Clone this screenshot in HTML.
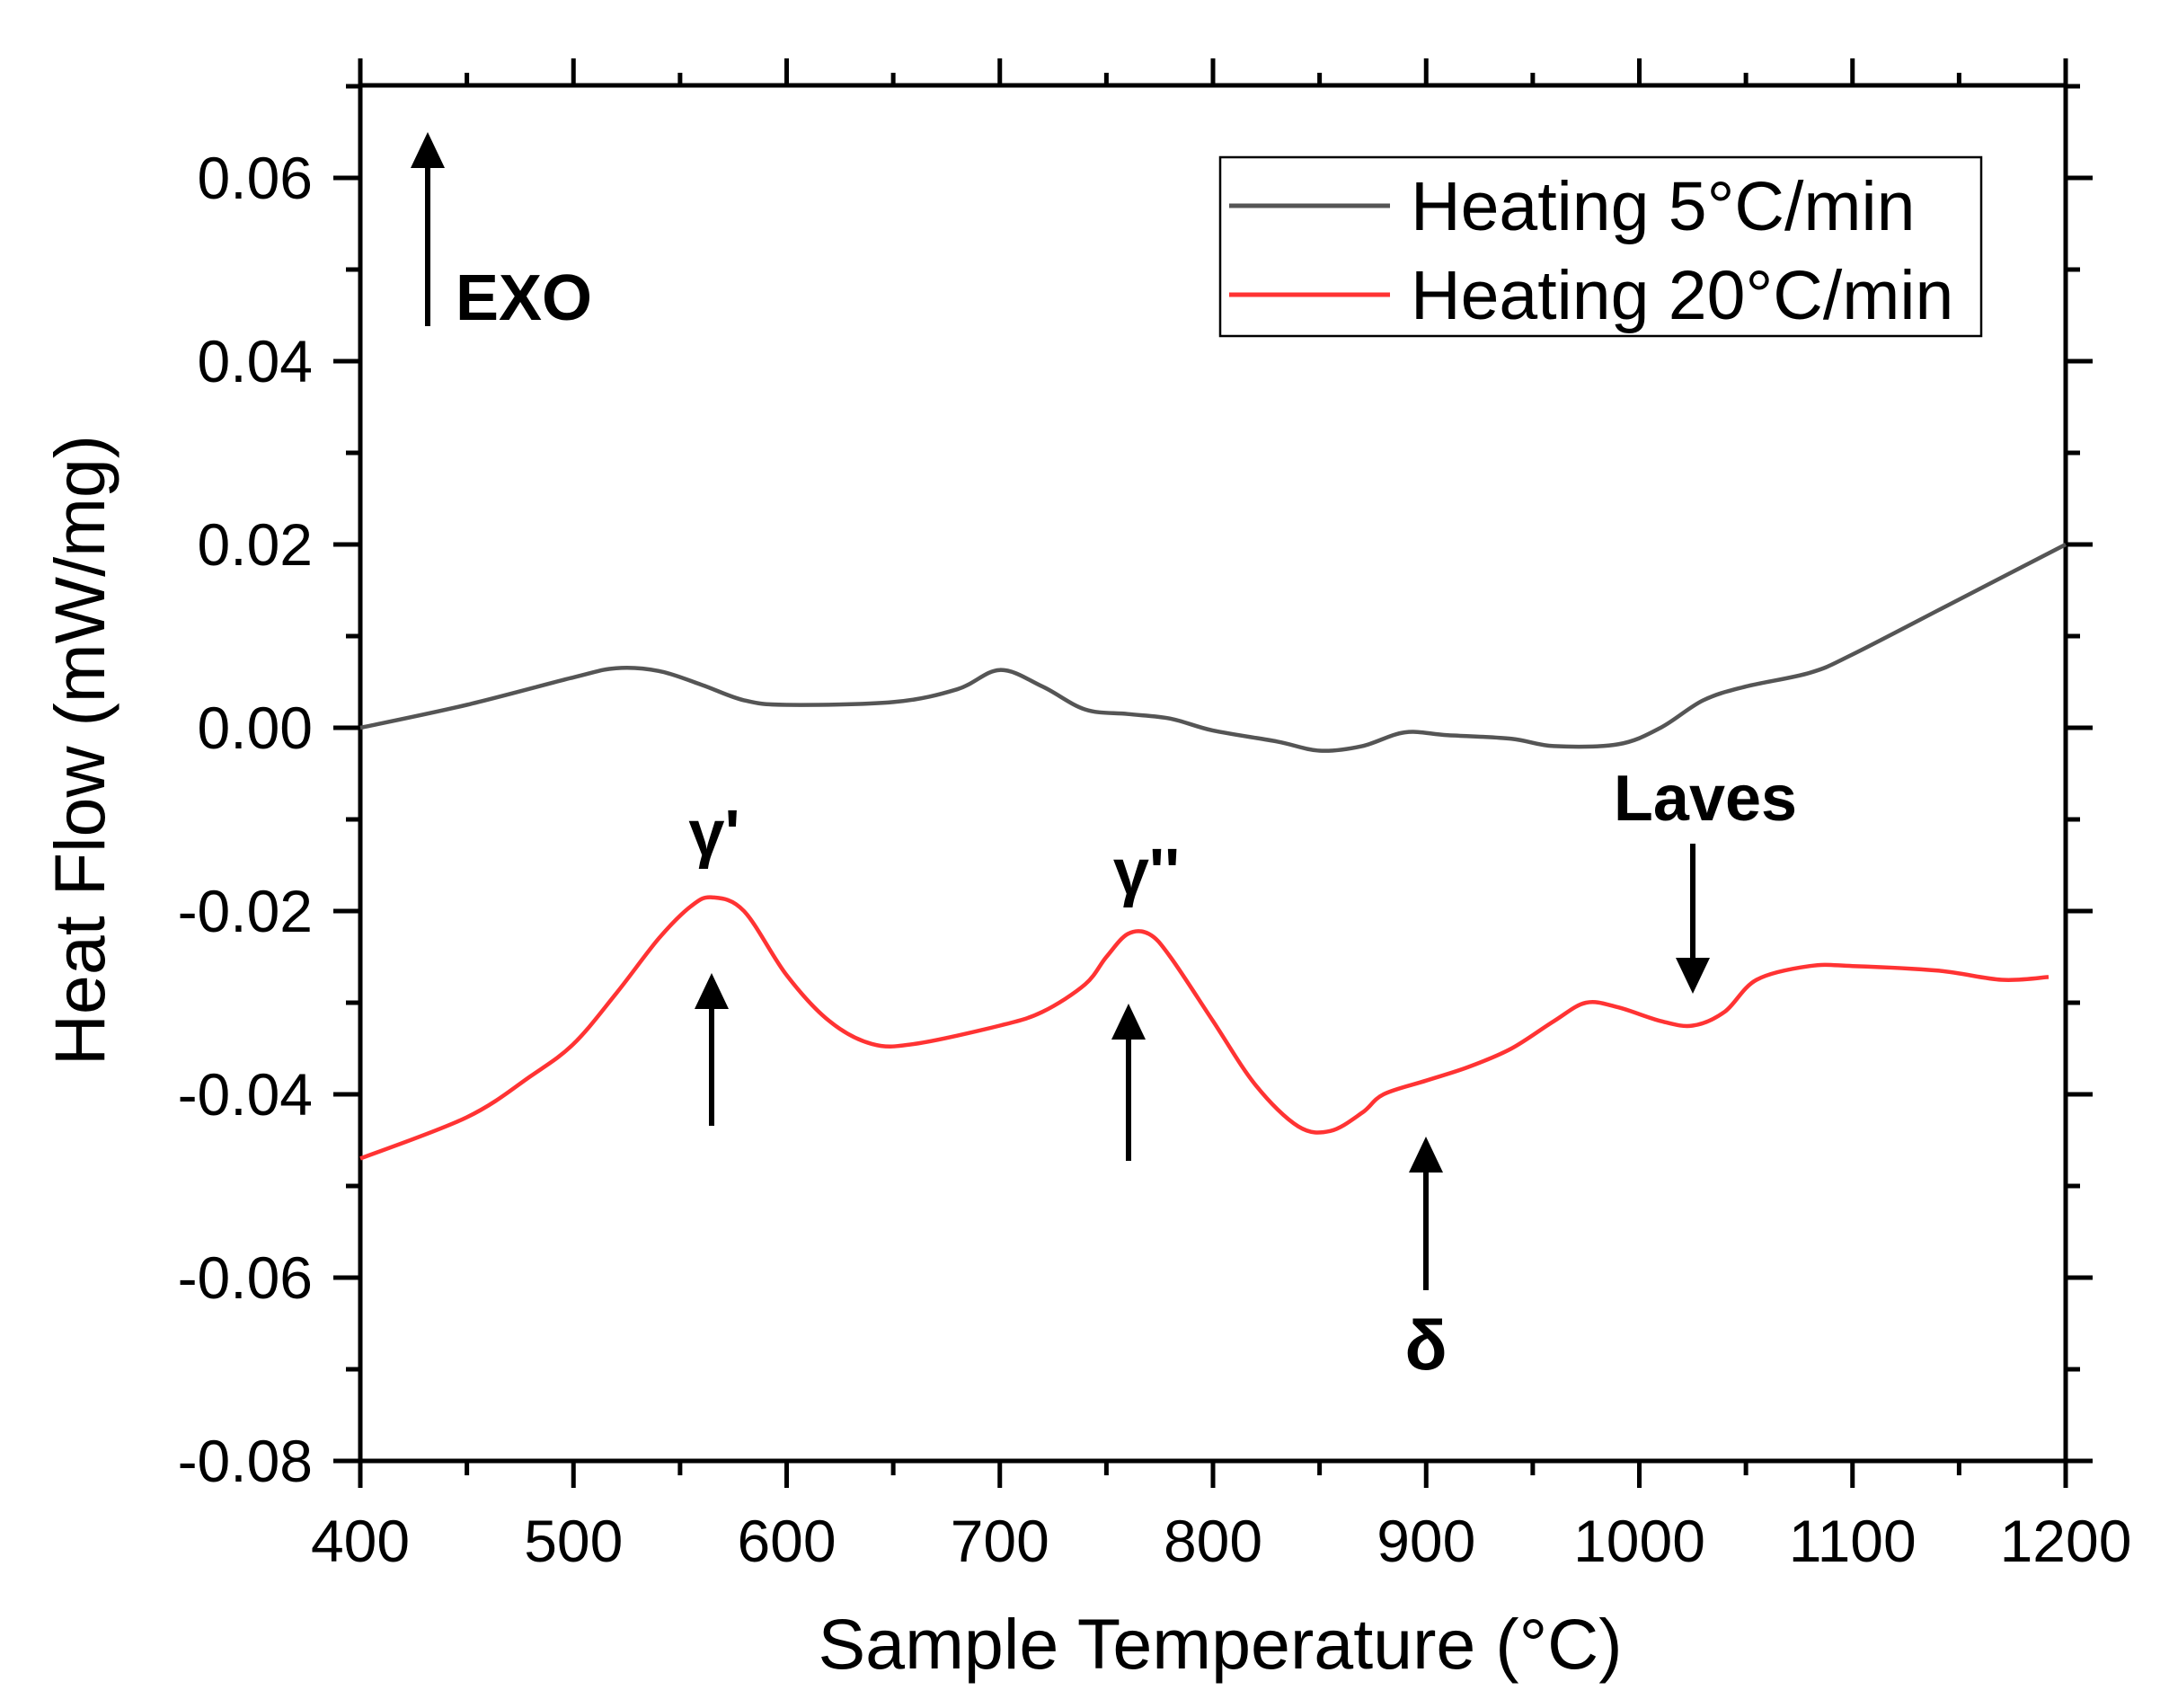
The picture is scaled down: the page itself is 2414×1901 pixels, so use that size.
<!DOCTYPE html>
<html><head><meta charset="utf-8"><style>
html,body{margin:0;padding:0;background:#fff;}
svg{display:block;}
text{font-family:"Liberation Sans",Arial,sans-serif;fill:#000;}
</style></head><body>
<svg id="chart" width="2414" height="1901" viewBox="0 0 2414 1901" xmlns="http://www.w3.org/2000/svg">
<g id="axes"></g>
<g id="series"></g>
<g id="annot"></g>
<g id="legend">
  <rect x="1358" y="175" width="847" height="199" fill="#fff" stroke="#000" stroke-width="2.5"/>
  <line x1="1368" y1="229" x2="1547" y2="229" stroke="#555" stroke-width="5"/>
  <text x="1570" y="256" font-size="77">Heating 5°C/min</text>
  <line x1="1368" y1="328" x2="1547" y2="328" stroke="#ff3333" stroke-width="5"/>
  <text x="1570" y="355" font-size="77">Heating 20°C/min</text>
</g>
<text x="1358" y="1857" font-size="79" text-anchor="middle">Sample Temperature (°C)</text>
<text transform="translate(116,835) rotate(-90)" font-size="79" text-anchor="middle">Heat Flow (mW/mg)</text>
</svg>
<script>
const xTicks = [400,500,600,700,800,900,1000,1100,1200];
const yTicks = [-0.08,-0.06,-0.04,-0.02,0.00,0.02,0.04,0.06];
const yTickLabels = ["-0.08","-0.06","-0.04","-0.02","0.00","0.02","0.04","0.06"];
const tempsSlow = [400,450,500,520,540,560,580,600,650,680,700,720,740,760,780,800,830,850,870,890,910,940,960,990,1010,1030,1050,1080,1100,1150,1200];
const heatSlow = [0.000,0.0025,0.0055,0.0065,0.0062,0.0047,0.003,0.0025,0.0028,0.0042,0.0063,0.0045,0.002,0.0015,0.001,-0.0003,-0.0015,-0.0025,-0.002,-0.0005,-0.0008,-0.0012,-0.002,-0.0018,0.000,0.003,0.0045,0.006,0.008,0.014,0.020];
const tempsFast = [400,450,480,500,520,540,555,565,580,600,620,640,660,700,720,740,750,760,770,780,800,820,840,855,870,880,900,920,940,960,975,990,1010,1025,1040,1055,1080,1100,1140,1170,1192];
const heatFast = [-0.047,-0.0425,-0.038,-0.0345,-0.029,-0.023,-0.0195,-0.0185,-0.020,-0.027,-0.032,-0.0345,-0.0345,-0.0325,-0.031,-0.028,-0.025,-0.0225,-0.0225,-0.025,-0.032,-0.039,-0.0435,-0.044,-0.042,-0.040,-0.0385,-0.037,-0.035,-0.032,-0.030,-0.0305,-0.032,-0.0325,-0.031,-0.0275,-0.026,-0.026,-0.0265,-0.0275,-0.0272];

const NS="http://www.w3.org/2000/svg";
const L=401,R=2299,T=95,B=1626;
function sx(v){return L+(v-400)*(R-L)/800;}
function sy(v){return 198+(0.06-v)*10200;}
function mk(tag,attrs,parent){const e=document.createElementNS(NS,tag);for(const k in attrs)e.setAttribute(k,attrs[k]);parent.appendChild(e);return e;}
const ax=document.getElementById('axes');
const frame=mk('rect',{x:L,y:T,width:R-L,height:B-T,fill:'none',stroke:'#000','stroke-width':5},ax);


for(let v=400;v<=1200;v+=50){
  const maj=(v%100===0);const x=sx(v);
  const t1=mk('line',{x1:x,y1:B,x2:x,y2:B+(maj?30:16),stroke:'#000','stroke-width':5},ax);
  
  
  const t2=mk('line',{x1:x,y1:T,x2:x,y2:T-(maj?30:14),stroke:'#000','stroke-width':5},ax);
  
  
}
xTicks.forEach(v=>{
  const t=mk('text',{x:sx(v),y:1738,'font-size':66,'text-anchor':'middle'},ax);t.textContent=String(v);
  
  
});
for(let i=-8;i<=7;i++){
  const v=i/100;const maj=(i%2===0);const y=sy(v);
  const t1=mk('line',{x1:L,y1:y,x2:L-(maj?30:16),y2:y,stroke:'#000','stroke-width':5},ax);
  
  
  const t2=mk('line',{x1:R,y1:y,x2:R+(maj?30:16),y2:y,stroke:'#000','stroke-width':5},ax);
  
  
}
yTicks.forEach((v,i)=>{
  const t=mk('text',{x:348,y:sy(v)+23,'font-size':66,'text-anchor':'end'},ax);t.textContent=yTickLabels[i];
  
  
});
const sg=document.getElementById('series');
function path(xs,ys){
  const P=xs.map((x,i)=>[sx(x),sy(ys[i])]);
  let d='M'+P[0][0].toFixed(1)+','+P[0][1].toFixed(1);
  for(let i=0;i<P.length-1;i++){
    const p0=P[Math.max(0,i-1)],p1=P[i],p2=P[i+1],p3=P[Math.min(P.length-1,i+2)];
    const c1=[p1[0]+(p2[0]-p0[0])/6,p1[1]+(p2[1]-p0[1])/6];
    const c2=[p2[0]-(p3[0]-p1[0])/6,p2[1]-(p3[1]-p1[1])/6];
    d+=' C'+c1[0].toFixed(1)+','+c1[1].toFixed(1)+' '+c2[0].toFixed(1)+','+c2[1].toFixed(1)+' '+p2[0].toFixed(1)+','+p2[1].toFixed(1);
  }
  return d;
}
const p1=mk('path',{d:path(tempsSlow,heatSlow),fill:'none',stroke:'#555','stroke-width':4.5,'stroke-linejoin':'round'},sg);


const p2=mk('path',{d:path(tempsFast,heatFast),fill:'none',stroke:'#ff3333','stroke-width':4.5,'stroke-linejoin':'round'},sg);


const an=document.getElementById('annot');
function arrow(x,yTail,yHead,name){
  const g=mk('g',{},an);
  
  
  const dir=yHead<yTail?1:-1;
  mk('line',{x1:x,y1:yTail,x2:x,y2:yHead+dir*34,stroke:'#000','stroke-width':6},g);
  mk('polygon',{points:`${x},${yHead} ${x-19},${yHead+dir*40} ${x+19},${yHead+dir*40}`,fill:'#000'},g);
}
arrow(476,363,147,'exo-arrow');
arrow(792,1253,1083,'gamma-prime-arrow');
arrow(1256,1292,1117,'gamma-double-prime-arrow');
arrow(1587,1436,1265,'delta-arrow');
arrow(1884,939,1106,'laves-arrow');
function lbl(x,y,s,txt,name,anchor){
  const t=mk('text',{x:x,y:y,'font-size':s,'font-weight':'bold','text-anchor':anchor||'middle'},an);t.textContent=txt;
  
  
}
lbl(507,356,72,'EXO','exo-label','start');
lbl(795,952,72,"γ'",'gamma-prime-label');
lbl(1276,995,72,"γ''",'gamma-double-prime-label');
lbl(1587,1524,78,'δ','delta-label');
lbl(1898,913,72,'Laves','laves-label');
</script>
</body></html>
